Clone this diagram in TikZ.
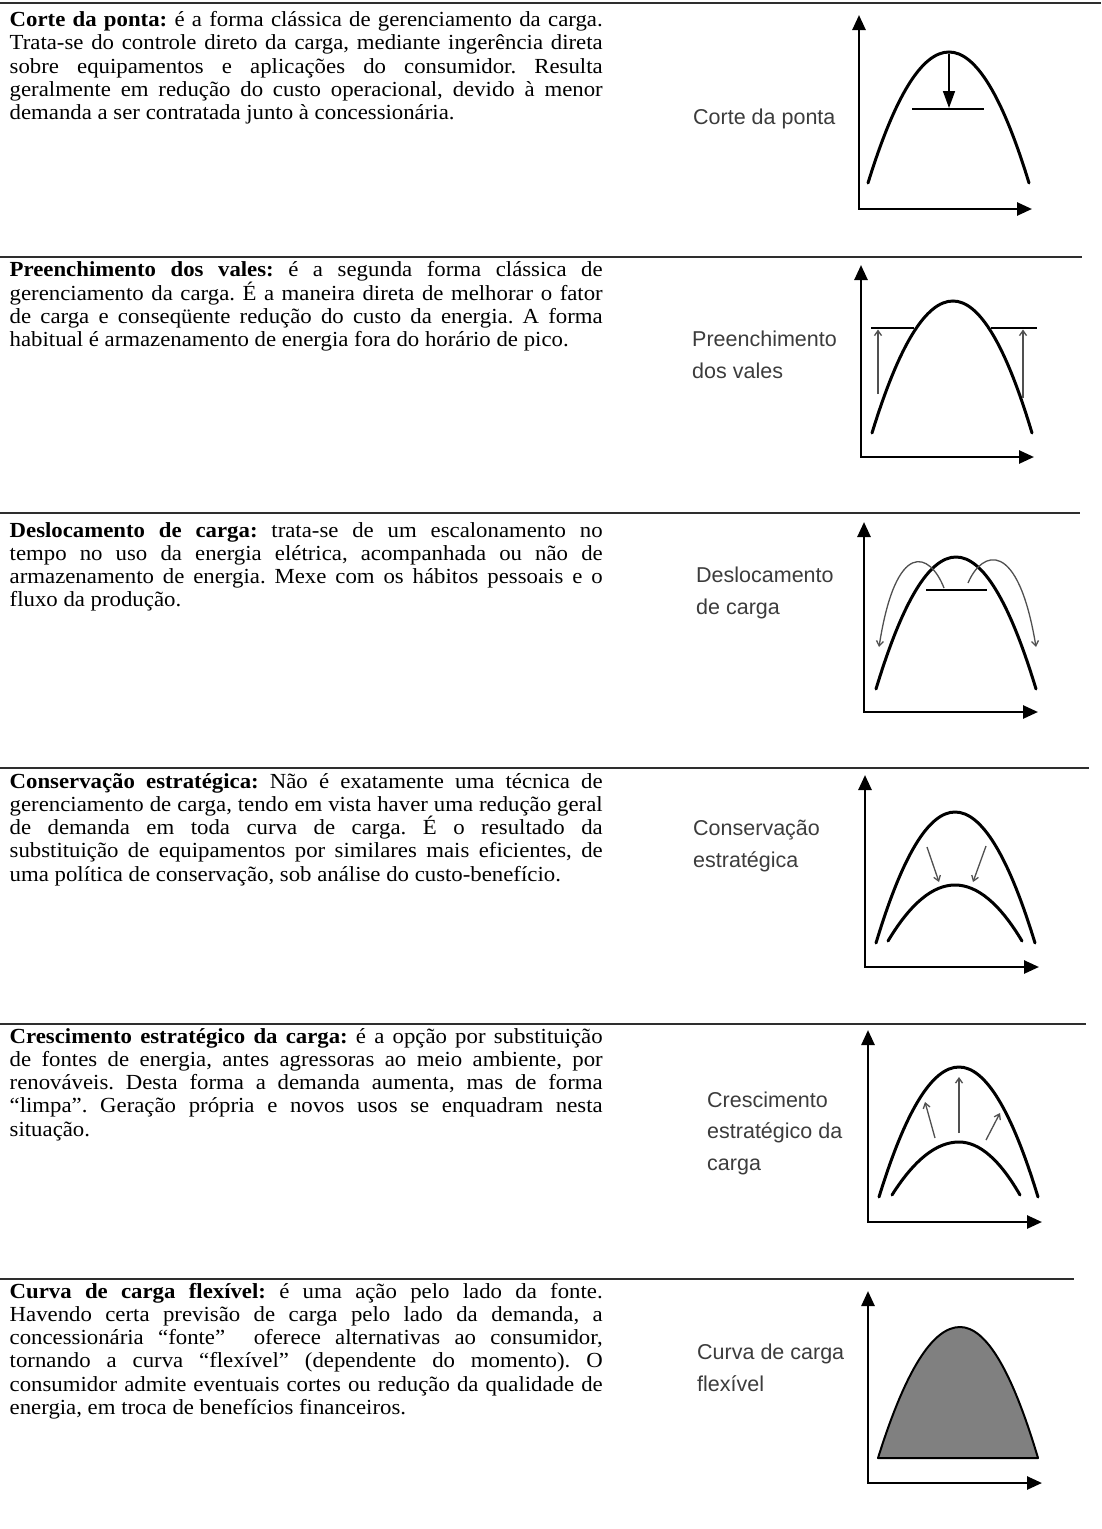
\documentclass[tikz,border=0pt]{standalone}
\usepackage{fontspec}
\setmainfont{Liberation Serif}[FakeStretch=1.06]
\newfontfamily\lblfont{Liberation Sans}
\usetikzlibrary{arrows.meta}
\definecolor{rulegray}{HTML}{2E2E2E}
\definecolor{lblgray}{HTML}{3C3C3C}
\definecolor{thingray}{HTML}{505050}
\definecolor{fillgray}{HTML}{808080}
\tolerance=10000
\hyphenpenalty=10000
\exhyphenpenalty=10000
\frenchspacing
\newcommand{\bell}[7]{% #1 opts, #2 x0, #3 yb, #4 xp, #5 yt, #6 x1, #7 tail
  \pgfmathsetmacro\bA{#2+(#4-#2)/3}%
  \pgfmathsetmacro\bB{#3-2*(#3-#5)/3}%
  \pgfmathsetmacro\bC{#4-(#4-#2)/3}%
  \pgfmathsetmacro\bD{#4+(#6-#4)/3}%
  \pgfmathsetmacro\bE{#6-(#6-#4)/3}%
  \draw[#1] (#2,#3) .. controls (\bA,\bB) and (\bC,#5) .. (#4,#5) .. controls (\bD,#5) and (\bE,\bB) .. (#6,#3) #7;}
\tikzset{
  rule/.style={line width=2.3pt, draw=rulegray},
  desc/.style={anchor=base west, inner sep=0pt, text width=593pt, align=justify,
    font=\fontsize{21.5}{23.3}\selectfont, text=black},
  lbl/.style={anchor=base west, inner sep=0pt, align=left,
    font=\lblfont\fontsize{21.5}{31.5}\selectfont, text=lblgray},
  axis/.style={line width=2.6pt, line join=miter,
    {Triangle[length=15pt,width=13pt]}-{Triangle[length=15pt,width=13pt]}},
  curve/.style={line width=3pt, line cap=round},
  thinline/.style={line width=1.4pt},
  tarrow/.style={line width=1.3pt, draw=thingray, -{Straight Barb[length=5pt,width=7pt]}},
}
\begin{document}
\begin{tikzpicture}[x=1pt,y=-1pt]
\useasboundingbox (0,0) rectangle (1101,1529);
\fill[white] (0,0) rectangle (1101,1529);

% horizontal rules
\draw[rule] (0,3) -- (1101,3);
\draw[rule] (0,257) -- (1082,257);
\draw[rule] (0,513) -- (1080,513);
\draw[rule] (0,768) -- (1089,768);
\draw[rule] (0,1024) -- (1086,1024);
\draw[rule] (0,1279) -- (1074,1279);

% text blocks
\node[desc] (t1) at (9.5,26.5) {\textbf{Corte da ponta:} é a forma clássica de gerenciamento da carga.\linebreak
Trata-se do controle direto da carga, mediante ingerência direta\linebreak
sobre equipamentos e aplicações do consumidor. Resulta\linebreak
geralmente em redução do custo operacional, devido à menor\linebreak
demanda a ser contratada junto à concessionária.};

\node[desc] (t2) at (9.5,276.7) {\textbf{Preenchimento dos vales:} é a segunda forma clássica de\linebreak
gerenciamento da carga. É a maneira direta de melhorar o fator\linebreak
de carga e conseqüente redução do custo da energia. A forma\linebreak
habitual é armazenamento de energia fora do horário de pico.};

\node[desc] (t3) at (9.5,537) {\textbf{Deslocamento de carga:} trata-se de um escalonamento no\linebreak
tempo no uso da energia elétrica, acompanhada ou não de\linebreak
armazenamento de energia. Mexe com os hábitos pessoais e o\linebreak
fluxo da produção.};

\node[desc] (t4) at (9.5,788) {\textbf{Conservação estratégica:} Não é exatamente uma técnica de\linebreak
gerenciamento de carga, tendo em vista haver uma redução geral\linebreak
de demanda em toda curva de carga. É o resultado da\linebreak
substituição de equipamentos por similares mais eficientes, de\linebreak
uma política de conservação, sob análise do custo-benefício.};

\node[desc] (t5) at (9.5,1043) {\textbf{Crescimento estratégico da carga:} é a opção por substituição\linebreak
de fontes de energia, antes agressoras ao meio ambiente, por\linebreak
renováveis. Desta forma a demanda aumenta, mas de forma\linebreak
“limpa”. Geração própria e novos usos se enquadram nesta\linebreak
situação.};

\node[desc] (t6) at (9.5,1298) {\textbf{Curva de carga flexível:} é uma ação pelo lado da fonte.\linebreak
Havendo certa previsão de carga pelo lado da demanda, a\linebreak
concessionária “fonte”\ \ oferece alternativas ao consumidor,\linebreak
tornando a curva “flexível” (dependente do momento). O\linebreak
consumidor admite eventuais cortes ou redução da qualidade de\linebreak
energia, em troca de benefícios financeiros.};

% labels (base = last line)
\node[lbl] (l1) at (693,124) {Corte da ponta};
\node[lbl] (l2) at (692,378) {Preenchimento\\dos vales};
\node[lbl] (l3) at (696,614) {Deslocamento\\de carga};
\node[lbl] (l4) at (693,867) {Conservação\\estratégica};
\node[lbl] (l5) at (707,1170) {Crescimento\\estratégico da\\carga};
\node[lbl] (l6) at (697,1391) {Curva de carga\\flexível};

% Graph 1
\draw[axis] (859,15) -- (859,209) -- (1032,209);
\bell{curve}{868}{183}{949}{52}{1029}{}
\draw[line width=1.6pt, -{Triangle[length=17pt,width=12pt]}] (949,54) -- (949,108);
\draw[thinline] (912,109) -- (984,109);

% Graph 2
\draw[axis] (861,265) -- (861,457) -- (1034,457);
\bell{curve}{872}{433}{953}{301}{1032}{}
\draw[thinline] (871,328) -- (914,328);
\draw[thinline] (991,328) -- (1037,328);
\draw[tarrow] (878,394) -- (878,329.5);
\draw[tarrow] (1023,398) -- (1023,329.5);

% Graph 3
\draw[axis] (864,522) -- (864,712) -- (1038,712);
\bell{curve}{876}{689}{956}{557}{1036}{}
\draw[thinline] (926,590) -- (987,590);
\draw[tarrow] (944,588) .. controls (930,552) and (896,538) .. (879,647);
\draw[tarrow] (968,583) .. controls (982,550) and (1018,538) .. (1036,647);

% Graph 4
\draw[axis] (865,775) -- (865,967) -- (1039,967);
\bell{curve}{876}{943}{955}{812}{1035}{}
\bell{curve}{888}{941}{955}{885}{1022}{}
\draw[tarrow] (927,847) -- (939,882);
\draw[tarrow] (986,846) -- (973,882);

% Graph 5
\draw[axis] (868,1030) -- (868,1222) -- (1042,1222);
\bell{curve}{879}{1197}{959}{1067}{1038}{}
\bell{curve}{892}{1195}{959}{1142}{1020}{}
\draw[tarrow] (935,1138) -- (925,1102);
\draw[tarrow] (959,1133) -- (959,1077);
\draw[tarrow] (986,1140) -- (1000,1113);

% Graph 6
\draw[axis] (868,1291) -- (868,1483) -- (1042,1483);
\bell{line width=2pt, fill=fillgray, line join=round}{878}{1458}{960}{1327}{1038}{-- cycle}
\end{tikzpicture}
\end{document}
